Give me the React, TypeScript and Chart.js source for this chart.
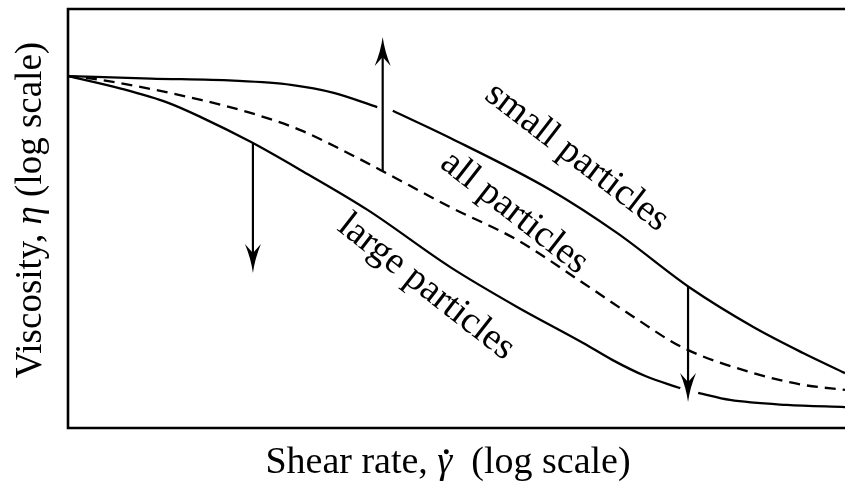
import { useEffect, useRef } from "react";
import { Chart, registerables } from "chart.js";

Chart.register(...registerables);

// Shear rate (log-scaled, arbitrary units) and viscosity (log-scaled, arbitrary units).
// A null viscosity leaves a small break in the curve where an arrow crosses it.
const smallX = [0, 10.7, 21.3, 28.7, 34.2, 39.8, 40.8, 41.8, 49.2, 62.1, 70.7, 80.1, 88.2, 94.6, 100];
const smallY = [84.0, 83.4, 82.9, 81.9, 80.0, 76.6, null, 75.7, 69.2, 56.8, 46.5, 33.4, 24.1, 17.9, 13.1];

const allX = [0, 4.2, 17.1, 23.5, 29.9, 35.0, 40.2, 49.2, 57.8, 66.3, 72.8, 79.0, 88.2, 94.6, 100];
const allY = [84.0, 83.1, 78.3, 75.2, 71.1, 66.6, 61.6, 52.7, 44.9, 34.6, 26.5, 19.3, 13.1, 10.3, 9.1];

const largeX = [0, 6.8, 12.9, 17.1, 23.5, 29.9, 38.6, 49.2, 57.8, 66.3, 70.1, 74.3, 78.8, 80.0, 81.1, 85.2, 92.5, 100];
const largeY = [84.0, 81.0, 77.6, 74.2, 68.3, 61.6, 52.0, 38.4, 28.9, 20.3, 16.2, 12.4, 9.5, null, 8.4, 6.7, 5.5, 5.0];

// Arrows showing how viscosity shifts: x position, start and end viscosity
const arrowX = [23.8, 40.5, 79.8];
const arrowFrom = [68.1, 61.3, 33.8];
const arrowTo = [37.0, 93.3, 6.2];

// Curve labels written along the curves
const curveLabels = ["small particles", "all particles", "large particles"];
const labelX = [65.5, 57.45, 46.1];
const labelY = [64.6, 51.4, 33.6];
const labelAngle = [37.5, 38, 38];

const SERIF = '"Liberation Serif", "DejaVu Serif", serif';
const INK = "#000";

type Seg = { text: string; italic?: boolean; dot?: boolean };

function drawRich(ctx: CanvasRenderingContext2D, segs: Seg[], cx: number, baseline: number, size: number) {
  const fontFor = (s: Seg) => `${s.italic ? "italic " : ""}${size}px ${SERIF}`;
  let total = 0;
  const widths = segs.map((s) => {
    ctx.font = fontFor(s);
    const w = ctx.measureText(s.text).width;
    total += w;
    return w;
  });
  let x = cx - total / 2;
  ctx.textAlign = "left";
  ctx.textBaseline = "alphabetic";
  segs.forEach((s, i) => {
    ctx.font = fontFor(s);
    ctx.fillText(s.text, x, baseline);
    if (s.dot) {
      ctx.beginPath();
      ctx.arc(x + widths[i] * 0.6, baseline - size * 0.56, size * 0.065, 0, Math.PI * 2);
      ctx.fill();
    }
    x += widths[i];
  });
}

const framePlugin = {
  id: "frame",
  beforeDatasetsDraw(chart: Chart) {
    const { ctx, chartArea } = chart;
    const { left, top, right, bottom } = chartArea;
    ctx.save();
    ctx.strokeStyle = INK;
    ctx.lineWidth = 2.6;
    ctx.beginPath();
    ctx.moveTo(right + 5, top);
    ctx.lineTo(left, top);
    ctx.lineTo(left, bottom);
    ctx.lineTo(right + 5, bottom);
    ctx.stroke();
    ctx.restore();
  },
};

const annotationPlugin = {
  id: "annotations",
  afterDatasetsDraw(chart: Chart) {
    const { ctx } = chart;
    const xs = chart.scales.x;
    const ys = chart.scales.y;
    ctx.save();
    ctx.fillStyle = INK;
    ctx.strokeStyle = INK;

    // arrows
    arrowX.forEach((ax, i) => {
      const px = xs.getPixelForValue(ax);
      const p1 = ys.getPixelForValue(arrowFrom[i]);
      const p2 = ys.getPixelForValue(arrowTo[i]);
      const dir = p2 > p1 ? 1 : -1;
      const headLen = 29;
      const notch = 20;
      const half = 8;
      ctx.lineWidth = 2.2;
      ctx.beginPath();
      ctx.moveTo(px, p1);
      ctx.lineTo(px, p2 - dir * notch);
      ctx.stroke();
      ctx.beginPath();
      ctx.moveTo(px, p2);
      ctx.quadraticCurveTo(px + 2, p2 - dir * headLen * 0.5, px + half, p2 - dir * headLen);
      ctx.lineTo(px, p2 - dir * notch);
      ctx.lineTo(px - half, p2 - dir * headLen);
      ctx.quadraticCurveTo(px - 2, p2 - dir * headLen * 0.5, px, p2);
      ctx.closePath();
      ctx.fill();
    });

    // curve labels
    ctx.font = `38px ${SERIF}`;
    ctx.textAlign = "center";
    ctx.textBaseline = "middle";
    curveLabels.forEach((t, i) => {
      ctx.save();
      ctx.translate(xs.getPixelForValue(labelX[i]), ys.getPixelForValue(labelY[i]));
      ctx.rotate((labelAngle[i] * Math.PI) / 180);
      ctx.fillText(t, 0, 0);
      ctx.restore();
    });

    ctx.restore();
  },
  afterDraw(chart: Chart) {
    const { ctx } = chart;
    ctx.save();
    ctx.fillStyle = INK;
    // x-axis title
    drawRich(
      ctx,
      [{ text: "Shear rate, " }, { text: "γ", italic: true, dot: true }, { text: "  (log scale)" }],
      448,
      473,
      38
    );
    // y-axis title
    ctx.translate(41, 210);
    ctx.rotate(-Math.PI / 2);
    drawRich(
      ctx,
      [{ text: "Viscosity, " }, { text: "η", italic: true }, { text: " (log scale)" }],
      0,
      0,
      37
    );
    ctx.restore();
  },
};

const toPoints = (xs: number[], ys: (number | null)[]) => xs.map((x, i) => ({ x, y: ys[i] }));

export default function App() {
  const canvasRef = useRef<HTMLCanvasElement | null>(null);

  useEffect(() => {
    const canvas = canvasRef.current;
    if (!canvas) return;
    const lineBase = {
      borderColor: INK,
      borderWidth: 2.3,
      pointRadius: 0,
      cubicInterpolationMode: "monotone" as const,
      spanGaps: false,
      fill: false,
    };
    const chart = new Chart(canvas, {
      type: "line",
      data: {
        datasets: [
          { ...lineBase, label: "small particles", data: toPoints(smallX, smallY) as any },
          { ...lineBase, label: "all particles", data: toPoints(allX, allY) as any, borderDash: [11, 7] },
          { ...lineBase, label: "large particles", data: toPoints(largeX, largeY) as any },
        ],
      },
      options: {
        responsive: false,
        animation: false,
        events: [],
        layout: { padding: { left: 68, top: 9, right: 0, bottom: 63 } },
        scales: {
          x: { type: "linear", min: 0, max: 100, display: false },
          y: { type: "linear", min: 0, max: 100, display: false },
        },
        plugins: { legend: { display: false }, tooltip: { enabled: false } },
      },
      plugins: [framePlugin, annotationPlugin],
    });
    return () => chart.destroy();
  }, []);

  return (
    <div style={{ position: "fixed", left: 0, top: 0, width: 845, height: 491, background: "#fff" }}>
      <canvas ref={canvasRef} width={845} height={491} style={{ display: "block" }} />
    </div>
  );
}
